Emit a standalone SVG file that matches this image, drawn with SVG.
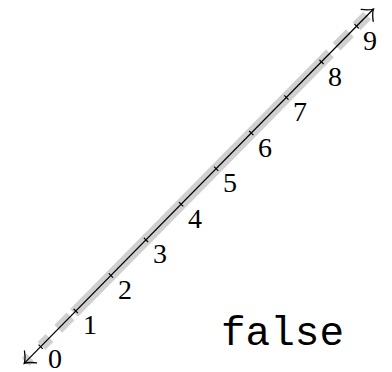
<svg xmlns="http://www.w3.org/2000/svg" width="392" height="372" viewBox="0 0 392 372">
<style>
.band{stroke:#d0d0d0;stroke-width:11;fill:none}
.axis{stroke:#000;stroke-width:1.3;fill:none}
.tick{stroke:#000;stroke-width:1.2}
.lbl{font-family:"Liberation Serif","Times New Roman",serif;font-size:28px;fill:#000;text-anchor:middle}
.mono{font-family:"Liberation Mono","Courier New",monospace;font-size:41px;fill:#000}
</style>
<defs>
<marker id="arr" viewBox="-12 -12 14 24" markerWidth="14" markerHeight="24" refX="0" refY="0" orient="auto-start-reverse" markerUnits="userSpaceOnUse">
<path d="M-9,-8.5 C-6,-4.5 -2.5,-1.2 0,0 C-2.5,1.2 -6,4.5 -9,8.5" fill="none" stroke="#000" stroke-width="1.3" stroke-linecap="round"/>
</marker>
</defs>
<g id="band">
<line class="band" x1="25.6" y1="362.0" x2="30.2" y2="357.4"/>
<line class="band" x1="41.5" y1="345.9" x2="49.5" y2="337.8"/>
<line class="band" x1="58.3" y1="328.9" x2="70.5" y2="316.4"/>
<line class="band" x1="74.0" y1="312.9" x2="329.9" y2="53.4"/>
<line class="band" x1="336.6" y1="46.6" x2="349.9" y2="33.1"/>
<line class="band" x1="356.6" y1="26.3" x2="367.1" y2="15.6"/>
</g>
<g id="axis">
<line class="axis" x1="24.2" y1="363.4" x2="373.5" y2="9" marker-start="url(#arr)" marker-end="url(#arr)"/>
</g>
<g id="ticks">
<line class="tick" x1="38.6" y1="344.6" x2="42.8" y2="348.8"/>
<line class="tick" x1="73.7" y1="309.0" x2="77.9" y2="313.2"/>
<line class="tick" x1="108.8" y1="273.4" x2="113.0" y2="277.6"/>
<line class="tick" x1="143.9" y1="237.8" x2="148.1" y2="242.0"/>
<line class="tick" x1="179.0" y1="202.2" x2="183.2" y2="206.4"/>
<line class="tick" x1="214.1" y1="166.6" x2="218.3" y2="170.8"/>
<line class="tick" x1="249.2" y1="131.0" x2="253.4" y2="135.2"/>
<line class="tick" x1="284.3" y1="95.4" x2="288.5" y2="99.6"/>
<line class="tick" x1="319.4" y1="59.8" x2="323.6" y2="64.0"/>
<line class="tick" x1="354.5" y1="24.2" x2="358.7" y2="28.4"/>
</g>
<g id="labels">
<text class="lbl" x="55" y="367.5">0</text>
<text class="lbl" x="90" y="334">1</text>
<text class="lbl" x="125" y="298.5">2</text>
<text class="lbl" x="160" y="263">3</text>
<text class="lbl" x="195" y="227.5">4</text>
<text class="lbl" x="230" y="192">5</text>
<text class="lbl" x="265" y="156.5">6</text>
<text class="lbl" x="300" y="121">7</text>
<text class="lbl" x="335" y="85.5">8</text>
<text class="lbl" x="370" y="50">9</text>
</g>
<text class="mono" x="221" y="345">false</text>
</svg>
